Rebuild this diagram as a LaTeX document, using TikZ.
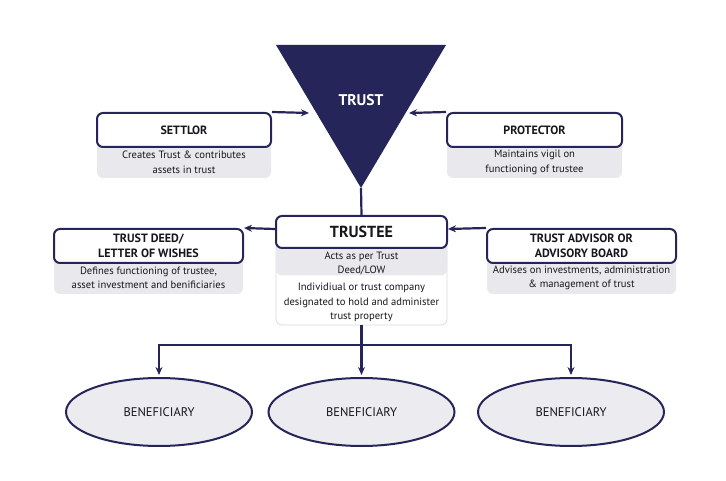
\documentclass[tikz,border=0pt]{standalone}
\usepackage{fontspec}
\setmainfont{PT Sans}
\usetikzlibrary{shapes.geometric,arrows.meta}
\definecolor{Navy}{HTML}{26255A}
\definecolor{Ink}{HTML}{16161C}
\definecolor{PaleGray}{HTML}{E9E9ED}
\definecolor{EdgeGray}{HTML}{DADADF}
\definecolor{OvalGray}{HTML}{EBEBF0}
\newcommand{\topgap}[1]{\rule{0pt}{#1}}

\begin{document}
\begin{tikzpicture}[x=1pt, y=-1pt,
  titlebox/.style={rectangle, rounded corners=6pt, draw=Navy, line width=2pt, fill=white, align=center, text=Ink, inner sep=0pt, font=\fontsize{12}{15}\selectfont\bfseries},
  descbox/.style={rectangle, rounded corners=6pt, fill=PaleGray, align=center, text=Ink, inner sep=0pt, font=\fontsize{10.6}{14.5}\selectfont},
  infobox/.style={descbox, fill=white, draw=EdgeGray, line width=0.8pt},
  benbox/.style={ellipse, draw=Navy, line width=2pt, fill=OvalGray, minimum width=186pt, minimum height=68pt, inner sep=0pt, text=Ink, font=\fontsize{12.5}{14}\selectfont},
  arrow/.style={-{Stealth[length=8pt,width=7pt]}, line width=2.2pt, draw=Navy},
  link/.style={line width=2.2pt, draw=Navy}
]
\useasboundingbox (0,0) rectangle (726,481);
% trust triangle
\fill[Navy] (276,45) -- (446,45) -- (361,188) -- cycle;
\node[text=white, font=\fontsize{15.5}{18}\selectfont\bfseries] (trust) at (361,100) {TRUST};
\coordinate (apex) at (361,188);
\coordinate (trustL) at (309,113);
\coordinate (trustR) at (409,113);

% settlor and protector
\node[descbox, minimum width=174pt, minimum height=39pt] (settlorinfo) at (184,158.5) {\topgap{15.5pt}Creates Trust \& contributes\\assets in trust};
\node[titlebox, minimum width=174pt, minimum height=34pt] (settlor) at (184,130) {SETTLOR};
\node[descbox, minimum width=175pt, minimum height=39pt] (protectorinfo) at (534.5,158.5) {\topgap{15.5pt}Maintains vigil on\\functioning of trustee};
\node[titlebox, minimum width=175pt, minimum height=34pt] (protector) at (534.5,130) {PROTECTOR};

% trust deed and advisor
\node[descbox, minimum width=189pt, minimum height=39pt] (deedinfo) at (148.5,274.5) {\topgap{14.5pt}Defines functioning of trustee,\\asset investment and benificiaries};
\node[titlebox, minimum width=189pt, minimum height=34pt] (deed) at (148.5,246) {TRUST DEED/\\LETTER OF WISHES};
\node[descbox, minimum width=189pt, minimum height=39pt] (advisorinfo) at (581.5,274.5) {\topgap{14.5pt}Advises on investments, administration\\\& management of trust};
\node[titlebox, minimum width=189pt, minimum height=34pt] (advisor) at (581.5,246) {TRUST ADVISOR OR\\ADVISORY BOARD};

% trustee
\node[infobox, minimum width=171pt, minimum height=85pt] (info) at (361.5,282.5) {\topgap{47.5pt}Individiual or trust company\\designated to hold and administer\\trust property};
\node[descbox, minimum width=171pt, minimum height=35.5pt] (trusteeinfo) at (361.5,257.75) {\topgap{18.5pt}Acts as per Trust\\Deed/LOW};
\node[titlebox, minimum width=171pt, minimum height=32pt, font=\fontsize{16}{19}\selectfont\bfseries] (trustee) at (361.5,232) {TRUSTEE};

% beneficiaries
\node[benbox] (ben1) at (159,412) {BENEFICIARY};
\node[benbox] (ben2) at (361.5,412) {BENEFICIARY};
\node[benbox] (ben3) at (571,412) {BENEFICIARY};
\coordinate (split) at (361.5,345);

\draw[arrow] (settlor.north east) -- (trustL);
\draw[arrow] (protector.north west) -- (trustR);
\draw[link] (apex) -- (trustee.north);
\draw[arrow] ([yshift=3pt]trustee.west) -- (deed.north east);
\draw[arrow] (advisor.north west) -- ([yshift=3pt]trustee.east);
\draw[arrow, shorten >=2pt] (info.south) -- (ben2.north);
\draw[arrow, shorten >=2pt] (split) -| (ben1.north);
\draw[arrow, shorten >=2pt] (split) -| (ben3.north);
\end{tikzpicture}
\end{document}
